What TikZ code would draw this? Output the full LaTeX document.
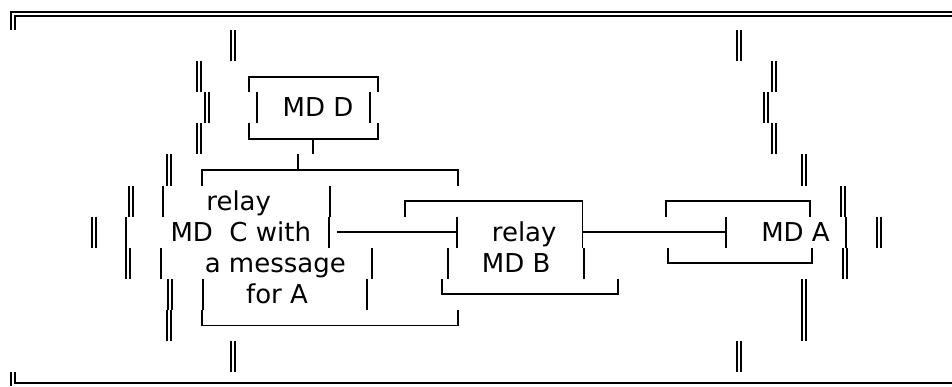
\documentclass[tikz,border=0pt]{standalone}
\usepackage{fontspec}
\setmainfont{DejaVu Sans}
\newcommand\RT[1]{(30+31.1*(#1-1))}
\newcommand\RM[1]{(45.55+31.1*(#1-1))}
\newcommand\RB[1]{(61.1+31.1*(#1-1))}
\newcommand\dbar[2]{\draw[dl] ({#1-2.3},{\RT{#2}}) -- ++(0,31.1) ({#1+2.3},{\RT{#2}}) -- ++(0,31.1);}
\newcommand\sbar[2]{\draw[ln] (#1,{\RT{#2}}) -- ++(0,31.1);}
\newcommand\boxtop[3]{\draw[ln] (#1,{\RB{#3}}) -- (#1,{\RM{#3}}) -- (#2,{\RM{#3}}) -- (#2,{\RB{#3}});}
\newcommand\boxbot[3]{\draw[ln] (#1,{\RT{#3}}) -- (#1,{\RM{#3}}) -- (#2,{\RM{#3}}) -- (#2,{\RT{#3}});}
\begin{document}
\begin{tikzpicture}[x=1pt,y=-1pt,
  ln/.style={line width=1.8pt},
  dl/.style={line width=1.7pt},
  lbl/.style={font=\fontsize{26}{31}\selectfont, inner sep=0pt, anchor=base}]
\useasboundingbox (0,0) rectangle (952,386);
% outer border
\draw[ln] (11,30) -- (11,12) -- (952,12);
\draw[ln] (15,30) -- (15,16) -- (952,16);
\draw[ln] (11,372) -- (11,386);
\draw[ln] (15,372) -- (15,383) -- (952,383);
% left double bars
\dbar{233}{1}\dbar{199}{2}\dbar{207}{3}\dbar{199}{4}\dbar{169}{5}\dbar{131}{6}
\dbar{94}{7}\dbar{128}{8}\dbar{170}{9}\dbar{169}{10}\dbar{233}{11}
% right double bars
\dbar{739}{1}\dbar{774}{2}\dbar{766}{3}\dbar{774}{4}\dbar{804}{5}\dbar{843}{6}
\dbar{879}{7}\dbar{845}{8}\dbar{804}{9}\dbar{804}{10}\dbar{739}{11}
% MD D box
\boxtop{249}{378}{2}
\sbar{257}{3}\sbar{370}{3}
\boxbot{249}{378}{4}
\draw[ln] (313,{\RM{4}}) -- (313,{\RB{4}});
% C box
\boxtop{202}{458}{5}
\draw[ln] (298,{\RT{5}}) -- (298,{\RM{5}});
\sbar{163}{6}\sbar{330}{6}
\sbar{126}{7}\sbar{329}{7}
\sbar{161}{8}\sbar{372}{8}
\sbar{203}{9}\sbar{367}{9}
\boxbot{202}{458}{10}
% B box
\boxtop{405}{582.5}{6}
\sbar{448}{8}\sbar{584}{8}
\boxbot{442}{618}{9}
% A box
\boxtop{666}{810}{6}
\sbar{846}{7}
\boxbot{668}{812}{8}
% labels
\node[lbl] (mdd) at (318,116.8) {MD D};
\node[lbl] (c1) at (238.7,210.1) {relay};
\node[lbl] (c2) at (240.8,241.2) {MD\ \ C with};
\node[lbl] (c3) at (275.3,272.3) {a message};
\node[lbl] (c4) at (277,303.4) {for A};
\node[lbl] (b1) at (524.2,241.2) {relay};
\node[lbl] (b2) at (516.2,272.3) {MD B};
\node[lbl] (a1) at (795.5,241.2) {MD A};
% connectors
\coordinate (cb0) at (337,{\RM{7}});
\coordinate (cb1) at (457,{\RM{7}});
\coordinate (ba0) at (582.5,{\RM{7}});
\coordinate (ba1) at (726,{\RM{7}});
\draw[ln] (cb0) -- (cb1);
\draw[ln] (ba0) -- (ba1);
\sbar{457}{7}\sbar{582.5}{7}\sbar{726}{7}
\end{tikzpicture}
\end{document}
